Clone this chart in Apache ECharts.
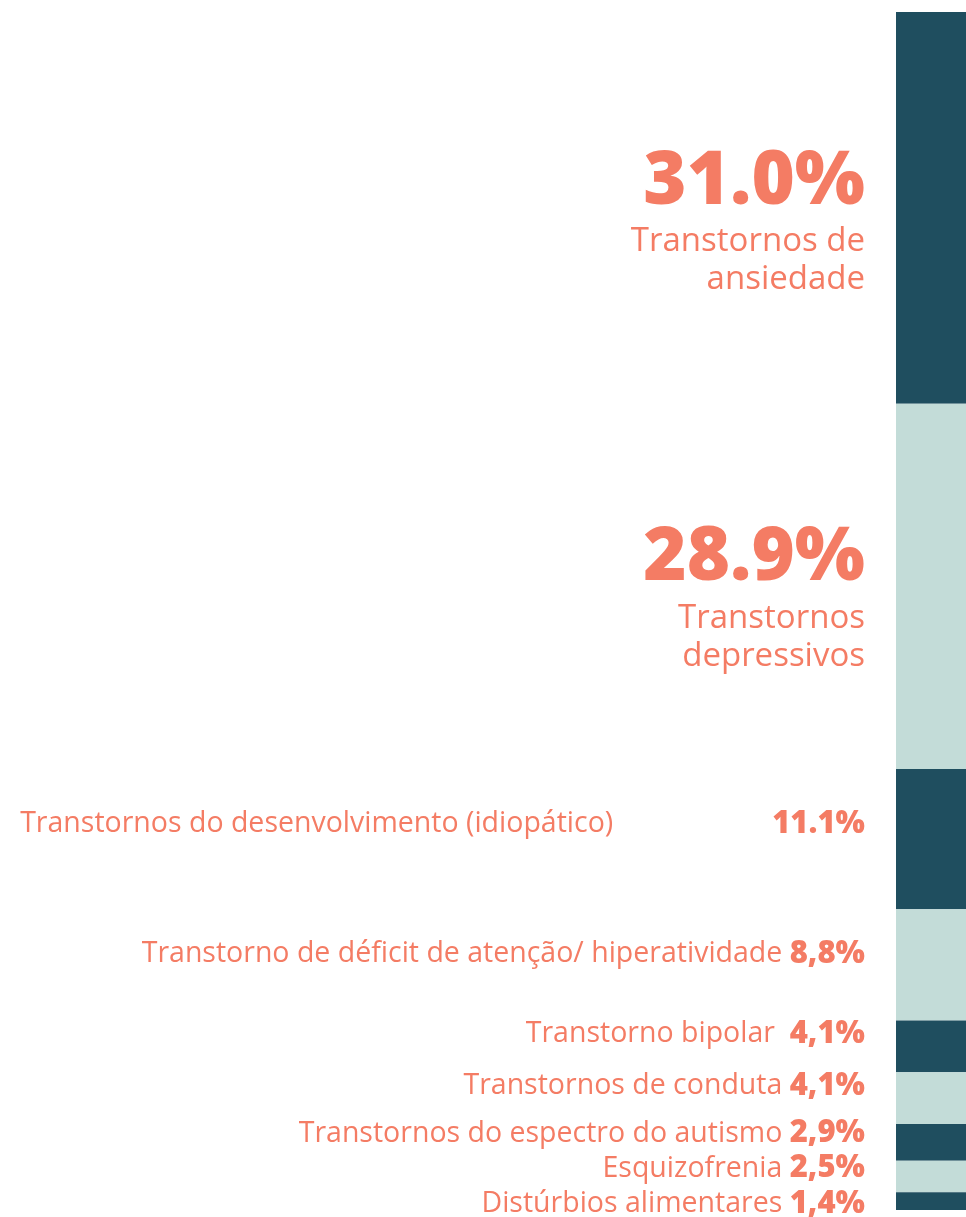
<!DOCTYPE html>
<html>
<head>
<meta charset="utf-8">
<script src="https://cdn.jsdelivr.net/npm/echarts@6/dist/echarts.min.js"></script>
<style>
  html, body { margin: 0; padding: 0; background: #ffffff; }
  #chart { width: 966px; height: 1217px; }
</style>
</head>
<body>
<div id="chart"></div>
<script>
  // dados
  const categories = [
    'Transtornos de\nansiedade',
    'Transtornos\ndepressivos',
    'Transtornos do desenvolvimento (idiopático)',
    'Transtorno de déficit de atenção/ hiperatividade',
    'Transtorno bipolar ',
    'Transtornos de conduta',
    'Transtornos do espectro do autismo',
    'Esquizofrenia',
    'Distúrbios alimentares'
  ];
  const values = [31.0, 28.9, 11.1, 8.8, 4.1, 4.1, 2.9, 2.5, 1.4];
  const valueLabels = ['31.0%', '28.9%', '11.1%', '8,8%', '4,1%', '4,1%', '2,9%', '2,5%', '1,4%'];

  // ajuste vertical dos rótulos (px)
  const labelShift = [13, 11, -15, -11, -12, -12, -9, -8, 3];

  const dark = '#1f4e5f';
  const light = '#c3dcd8';
  const coral = '#f47c64';
  const font = "'Open Sans', sans-serif";

  const total = values.reduce((a, b) => a + b, 0);

  const series = values.map((v, i) => {
    let formatter;
    if (i < 2) {
      const lines = categories[i].split('\n').map(l => '{n|' + l + '}');
      formatter = ['{big|' + valueLabels[i] + '}'].concat(lines).join('\n');
    } else if (i === 2) {
      formatter = '{wide|' + categories[i] + '}{v|' + valueLabels[i] + '}';
    } else {
      formatter = '{s|' + categories[i] + ' }{v|' + valueLabels[i] + '}';
    }
    return {
      name: categories[i],
      type: 'bar',
      stack: 'total',
      barWidth: '100%',
      data: [v],
      itemStyle: { color: i % 2 === 0 ? dark : light },
      label: {
        show: true,
        position: 'left',
        distance: 31,
        offset: [0, labelShift[i]],
        align: 'right',
        color: coral,
        fontFamily: font,
        formatter: formatter,
        rich: {
          big: { fontSize: 74, fontWeight: 800, color: coral, fontFamily: font, lineHeight: 80, align: 'right' },
          n: { fontSize: 33, color: coral, fontFamily: font, lineHeight: 38, align: 'right' },
          wide: { fontSize: 28.5, color: coral, fontFamily: font, width: 752, align: 'left' },
          s: { fontSize: 28.5, color: coral, fontFamily: font },
          v: { fontSize: 31, fontWeight: 800, color: coral, fontFamily: font }
        }
      }
    };
  });

  const chart = echarts.init(document.getElementById('chart'));
  chart.setOption({
    animation: false,
    grid: { left: 896, right: 0, top: 12, bottom: 7 },
    xAxis: { type: 'category', data: ['total'], show: false },
    yAxis: { type: 'value', inverse: true, min: 0, max: total, show: false },
    series: series
  });
</script>
</body>
</html>
